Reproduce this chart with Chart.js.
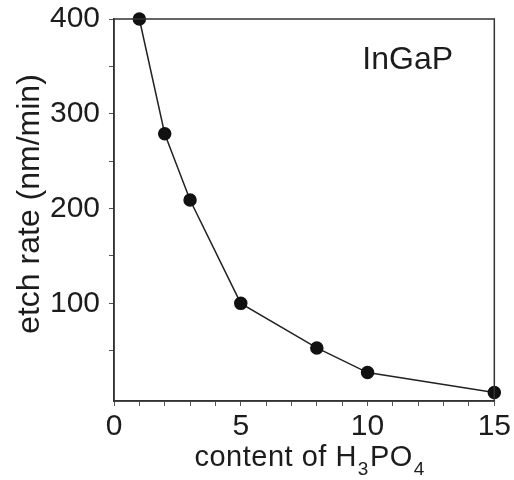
<!DOCTYPE html>
<html>
<head>
<meta charset="utf-8">
<script src="https://cdn.jsdelivr.net/npm/chart.js@4/dist/chart.umd.min.js"></script>
<style>
  html, body { margin: 0; padding: 0; background: #ffffff; }
  #wrap { width: 514px; height: 480px; }
</style>
</head>
<body>
<div id="wrap"><canvas id="c" width="514" height="480"></canvas></div>
<script>
// ---- data ----
const h3po4Content = [1, 2, 3, 5, 8, 10, 15];
const etchRate = [400, 279, 209, 100, 53, 27, 6];
const xTickValues = [0,1,2,3,4,5,6,7,8,9,10,11,12,13,14,15];
const xLabelValues = [0, 5, 10, 15];
const yTickValues = [50, 100, 150, 200, 250, 300, 350, 400];
const yLabelValues = [100, 200, 300, 400];
const yTitle = 'etch rate (nm/min)';
const xTitleParts = [['content of H', false], ['3', true], ['PO', false], ['4', true]];
const sampleLabel = 'InGaP';

const FONT = '"Liberation Sans", Arial, sans-serif';
const INK = '#1c1c1c';

const framePlugin = {
  id: 'frame',
  afterDraw(chart) {
    const {ctx, chartArea: a} = chart;
    ctx.save();
    // box around plot area
    ctx.strokeStyle = '#333';
    ctx.lineWidth = 1.5;
    ctx.strokeRect(a.left, a.top, a.right - a.left, a.bottom - a.top);
    // sample label
    ctx.fillStyle = INK;
    ctx.font = '32px ' + FONT;
    ctx.textBaseline = 'alphabetic';
    ctx.textAlign = 'left';
    ctx.fillText(sampleLabel, a.right - 132, a.top + 50);

    // y title (rotated)
    ctx.save();
    ctx.font = '32px ' + FONT;
    ctx.textAlign = 'center';
    ctx.textBaseline = 'middle';
    ctx.translate(30, (a.top + a.bottom) / 2 - 6);
    ctx.rotate(-Math.PI / 2);
    ctx.fillText(yTitle, 0, 0);
    ctx.restore();

    // x title with subscripts
    ctx.save();
    if ('letterSpacing' in ctx) ctx.letterSpacing = '0.5px';
    const big = '29px ' + FONT, small = '19px ' + FONT;
    let total = 0;
    for (const [t, sub] of xTitleParts) { ctx.font = sub ? small : big; total += ctx.measureText(t).width + (sub ? 2 : 0); }
    let x = (a.left + a.right) / 2 + 6 - total / 2;
    const base = a.bottom + 65;
    for (const [t, sub] of xTitleParts) {
      ctx.font = sub ? small : big;
      ctx.fillText(t, x + (sub ? 1 : 0), base + (sub ? 9 : 0));
      x += ctx.measureText(t).width + (sub ? 2 : 0);
    }
    ctx.restore();
    ctx.restore();
  }
};

new Chart(document.getElementById('c'), {
  type: 'scatter',
  data: {
    datasets: [{
      data: h3po4Content.map((x, i) => ({x: x, y: etchRate[i]})),
      showLine: true,
      borderColor: '#222',
      borderWidth: 1.5,
      backgroundColor: '#111',
      pointBackgroundColor: '#111',
      pointBorderColor: '#111',
      pointRadius: 6,
      pointHoverRadius: 6,
      clip: false,
      tension: 0
    }]
  },
  options: {
    responsive: false,
    animation: false,
    devicePixelRatio: 1,
    layout: { padding: { top: 19, right: 19, left: 0, bottom: 0 } },
    plugins: { legend: { display: false }, tooltip: { enabled: false }, title: { display: false } },
    scales: {
      x: {
        type: 'linear', min: 0, max: 15,
        afterBuildTicks(s) { s.ticks = xTickValues.map(v => ({value: v})); },
        afterFit(s) { s.height = 79; },
        grid: { drawOnChartArea: false, drawTicks: true, tickLength: 5, color: '#555', lineWidth: 1 },
        border: { display: true, color: '#333', width: 1.5 },
        ticks: {
          autoSkip: false, maxRotation: 0, padding: 3, color: INK,
          font: { family: FONT, size: 30 },
          callback: v => xLabelValues.includes(v) ? String(v) : ''
        }
      },
      y: {
        type: 'linear', min: -3, max: 400,
        afterBuildTicks(s) { s.ticks = yTickValues.map(v => ({value: v})); },
        afterFit(s) { s.width = 114; s.paddingTop = 0; s.paddingBottom = 0; },
        grid: { drawOnChartArea: false, drawTicks: true, tickLength: 5, color: '#555', lineWidth: 1 },
        border: { display: true, color: '#333', width: 1.5 },
        ticks: {
          autoSkip: false, padding: 9, color: INK,
          font: { family: FONT, size: 30, lineHeight: 1 },
          callback: v => yLabelValues.includes(v) ? String(v) : ''
        }
      }
    }
  },
  plugins: [framePlugin]
});
</script>
</body>
</html>
